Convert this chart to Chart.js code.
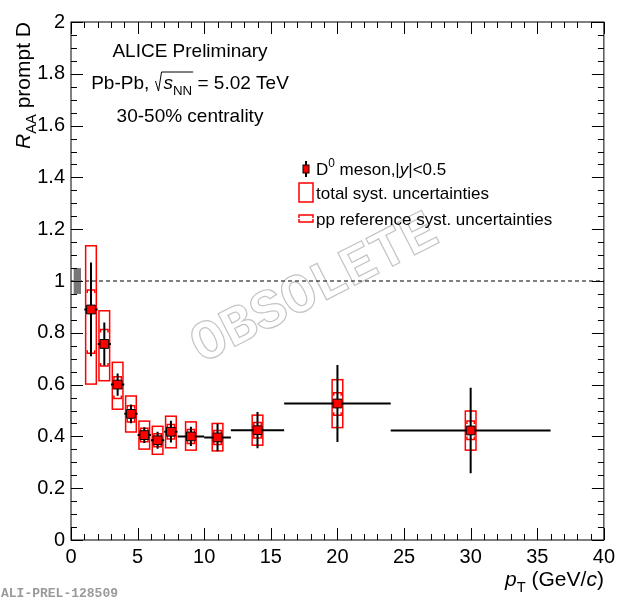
<!DOCTYPE html>
<html>
<head>
<meta charset="utf-8">
<script src="https://cdn.jsdelivr.net/npm/chart.js@4.4.0/dist/chart.umd.min.js"></script>
<style>
  html, body { margin: 0; padding: 0; background: #fff; }
  #wrap { width: 620px; height: 600px; }
</style>
</head>
<body>
<div id="wrap"><canvas id="raa" width="620" height="600"></canvas></div>
<script>
// pT bins (GeV/c)
const ptCenter = [1.5, 2.5, 3.5, 4.5, 5.5, 6.5, 7.5, 9, 11, 14, 20, 30];
const ptLow    = [1, 2, 3, 4, 5, 6, 7, 8, 10, 12, 16, 24];
const ptHigh   = [2, 3, 4, 5, 6, 7, 8, 10, 12, 16, 24, 36];
// prompt D0 R_AA, 30-50%
const raa      = [0.890, 0.757, 0.600, 0.487, 0.405, 0.385, 0.418, 0.400, 0.396, 0.424, 0.527, 0.423];
const statErr  = [0.181, 0.083, 0.043, 0.036, 0.030, 0.033, 0.042, 0.037, 0.053, 0.070, 0.149, 0.165];
const systUp   = [0.246, 0.128, 0.086, 0.069, 0.054, 0.054, 0.060, 0.056, 0.054, 0.058, 0.092, 0.075];
const systDown = [0.288, 0.142, 0.095, 0.070, 0.054, 0.054, 0.062, 0.053, 0.052, 0.058, 0.093, 0.076];
const ppRefUp   = [0.075, 0.056, 0.030, 0.031, 0.026, 0.025, 0.028, 0.027, 0.027, 0.030, 0.042, 0.036];
const ppRefDown = [0.169, 0.085, 0.054, 0.031, 0.026, 0.025, 0.028, 0.027, 0.027, 0.030, 0.045, 0.035];
const normUnc = 0.05;

const xTicks = [0, 5, 10, 15, 20, 25, 30, 35, 40];
const yTicks = [0, 0.2, 0.4, 0.6, 0.8, 1, 1.2, 1.4, 1.6, 1.8, 2];

const FONT = '"Liberation Sans", Arial, Helvetica, sans-serif';
const RED = '#ff0000';

function fontFor(style, size) {
  const small = style.includes('sub') || style.includes('sup');
  const sz = small ? size * 0.7 : size;
  return (style.startsWith('i') ? 'italic ' : '') + sz + 'px ' + FONT;
}

// draws text made of [string, style] parts, style '' | 'i' | 'sub' | 'sup'
function drawRich(ctx, parts, x, y, size, align) {
  let total = 0;
  parts.forEach(([t, s]) => { ctx.font = fontFor(s, size); total += ctx.measureText(t).width; });
  let cx = align === 'right' ? x - total : align === 'center' ? x - total / 2 : x;
  ctx.textAlign = 'left';
  ctx.textBaseline = 'alphabetic';
  parts.forEach(([t, s]) => {
    ctx.font = fontFor(s, size);
    const dy = s.includes('sub') ? size * 0.3 : s.includes('sup') ? -size * 0.45 : 0;
    ctx.fillText(t, cx, y + dy);
    cx += ctx.measureText(t).width;
  });
  return total;
}

function bracketBox(ctx, x0, x1, yTop, yBot) {
  const stub = 3;
  ctx.beginPath();
  ctx.moveTo(x0, yTop + stub); ctx.lineTo(x0, yTop); ctx.lineTo(x1, yTop); ctx.lineTo(x1, yTop + stub);
  ctx.moveTo(x0, yBot - stub); ctx.lineTo(x0, yBot); ctx.lineTo(x1, yBot); ctx.lineTo(x1, yBot - stub);
  ctx.stroke();
}

const alicePlot = {
  id: 'alicePlot',
  beforeDatasetsDraw(chart) {
    const { ctx, scales: { x, y } } = chart;
    ctx.save();

    // watermark
    ctx.save();
    ctx.translate(315, 290);
    ctx.rotate(-27 * Math.PI / 180);
    ctx.font = 'bold 56px "Liberation Mono", "DejaVu Sans Mono", monospace';
    ctx.textAlign = 'center';
    ctx.textBaseline = 'middle';
    ctx.strokeStyle = '#c4c4c4';
    ctx.lineWidth = 1.2;
    ctx.strokeText('OBSOLETE', 0, 0);
    ctx.restore();

    // line at R_AA = 1
    ctx.strokeStyle = '#000';
    ctx.lineWidth = 1;
    ctx.setLineDash([4, 3]);
    ctx.beginPath();
    ctx.moveTo(x.getPixelForValue(0), y.getPixelForValue(1));
    ctx.lineTo(x.getPixelForValue(40), y.getPixelForValue(1));
    ctx.stroke();
    ctx.setLineDash([]);

    // normalisation uncertainty
    ctx.fillStyle = '#777';
    const nx0 = x.getPixelForValue(0.2), nx1 = x.getPixelForValue(0.75);
    const ny0 = y.getPixelForValue(1 + normUnc), ny1 = y.getPixelForValue(1 - normUnc);
    ctx.fillRect(nx0, ny0, nx1 - nx0, ny1 - ny0);

    // syst boxes + pp reference brackets
    ctx.strokeStyle = RED;
    ctx.lineWidth = 1.5;
    ptCenter.forEach((p, i) => {
      const bx0 = x.getPixelForValue(p - 0.4), bx1 = x.getPixelForValue(p + 0.4);
      const by0 = y.getPixelForValue(raa[i] + systUp[i]), by1 = y.getPixelForValue(raa[i] - systDown[i]);
      ctx.strokeRect(bx0, by0, bx1 - bx0, by1 - by0);
      const px0 = x.getPixelForValue(p - 0.28), px1 = x.getPixelForValue(p + 0.28);
      bracketBox(ctx, px0, px1, y.getPixelForValue(raa[i] + ppRefUp[i]), y.getPixelForValue(raa[i] - ppRefDown[i]));
    });

    // stat errors and bin widths
    ctx.strokeStyle = '#000';
    ctx.lineWidth = 2;
    ptCenter.forEach((p, i) => {
      const xc = x.getPixelForValue(p), yc = y.getPixelForValue(raa[i]);
      ctx.beginPath();
      ctx.moveTo(xc, y.getPixelForValue(raa[i] + statErr[i]));
      ctx.lineTo(xc, y.getPixelForValue(raa[i] - statErr[i]));
      ctx.moveTo(x.getPixelForValue(ptLow[i]), yc);
      ctx.lineTo(x.getPixelForValue(ptHigh[i]), yc);
      ctx.stroke();
    });
    ctx.restore();
  },
  afterDraw(chart) {
    const { ctx, chartArea: a, scales: { x, y } } = chart;
    ctx.save();
    // frame with inner ticks on all sides
    ctx.strokeStyle = '#000';
    ctx.lineWidth = 1;
    ctx.strokeRect(a.left, a.top, a.right - a.left, a.bottom - a.top);
    ctx.beginPath();
    for (let v = 0; v <= 40; v += 1) {
      const px = Math.round(x.getPixelForValue(v)) + 0.5;
      const len = v % 5 === 0 ? 12 : 6;
      ctx.moveTo(px, a.bottom); ctx.lineTo(px, a.bottom - len);
      ctx.moveTo(px, a.top); ctx.lineTo(px, a.top + len);
    }
    for (let k = 0; k <= 40; k++) {
      const py = Math.round(y.getPixelForValue(k * 0.05)) + 0.5;
      const len = k % 4 === 0 ? 12 : 6;
      ctx.moveTo(a.left, py); ctx.lineTo(a.left + len, py);
      ctx.moveTo(a.right, py); ctx.lineTo(a.right - len, py);
    }
    ctx.stroke();

    ctx.fillStyle = '#000';
    // header texts
    drawRich(ctx, [['ALICE Preliminary', '']], 190, 57, 19, 'center');
    // Pb-Pb, sqrt(sNN) = 5.02 TeV
    {
      const size = 19, base = 89;
      const p1 = 'Pb-Pb, ', p3 = ' = 5.02 TeV';
      ctx.font = fontFor('', size); const w1 = ctx.measureText(p1).width, w3 = ctx.measureText(p3).width;
      ctx.font = fontFor('i', size); const ws = ctx.measureText('s').width;
      ctx.font = fontFor('sub', size); const wn = ctx.measureText('NN').width;
      const radW = 9;
      const total = w1 + radW + ws + wn + w3;
      let cx = 190 - total / 2;
      drawRich(ctx, [[p1, '']], cx, base, size, 'left');
      cx += w1;
      ctx.lineWidth = 1;
      ctx.beginPath();
      ctx.moveTo(cx + 1, base - 8);
      ctx.lineTo(cx + 4, base + 2);
      ctx.lineTo(cx + 7, base - 17);
      ctx.lineTo(cx + radW + ws + wn + 1, base - 17);
      ctx.stroke();
      cx += radW;
      drawRich(ctx, [['s', 'i'], ['NN', 'sub'], [p3, '']], cx, base, size, 'left');
    }
    drawRich(ctx, [['30-50% centrality', '']], 190, 122, 19, 'center');

    // legend
    const lx = 316, ls = 17;
    ctx.strokeStyle = '#000'; ctx.lineWidth = 2;
    ctx.beginPath(); ctx.moveTo(306, 161); ctx.lineTo(306, 177); ctx.stroke();
    ctx.fillStyle = RED; ctx.fillRect(303, 165, 6, 8);
    ctx.lineWidth = 1; ctx.strokeRect(303, 165, 6, 8);
    ctx.fillStyle = '#000';
    drawRich(ctx, [['D', ''], ['0', 'sup'], [' meson,|', ''], ['y', 'i'], ['|<0.5', '']], lx, 175, ls, 'left');
    ctx.strokeStyle = RED; ctx.lineWidth = 1.5;
    ctx.strokeRect(299, 183, 14, 19);
    drawRich(ctx, [['total syst. uncertainties', '']], lx, 199, ls, 'left');
    bracketBox(ctx, 299, 313, 215, 222);
    drawRich(ctx, [['pp reference syst. uncertainties', '']], lx, 225, ls, 'left');

    // axis titles
    drawRich(ctx, [['p', 'i'], ['T', 'sub'], [' (GeV/', ''], ['c', 'i'], [')', '']], a.right, 586, 21, 'right');
    ctx.save();
    ctx.translate(30, a.top);
    ctx.rotate(-Math.PI / 2);
    drawRich(ctx, [['R', 'i'], ['AA', 'sub'], [' prompt D', '']], 0, 0, 21, 'right');
    ctx.restore();

    // reference tag
    ctx.fillStyle = '#9a9a9a';
    ctx.font = 'bold 13px "Liberation Mono", monospace';
    ctx.textAlign = 'left';
    ctx.textBaseline = 'alphabetic';
    ctx.fillText('ALI-PREL-128509', 1, 597);
    ctx.restore();
  }
};

new Chart(document.getElementById('raa').getContext('2d'), {
  type: 'scatter',
  data: {
    datasets: [{
      label: 'D0 meson',
      data: ptCenter.map((p, i) => ({ x: p, y: raa[i] })),
      pointStyle: 'rect',
      pointRotation: 0,
      pointRadius: 6.2,
      pointHoverRadius: 6.2,
      pointBackgroundColor: RED,
      pointBorderColor: '#000',
      pointBorderWidth: 1,
      backgroundColor: RED,
      borderColor: '#000'
    }]
  },
  options: {
    responsive: false,
    animation: false,
    devicePixelRatio: 1,
    events: [],
    layout: { padding: { top: 22, right: 16, left: 0, bottom: 0 } },
    plugins: { legend: { display: false }, tooltip: { enabled: false } },
    scales: {
      x: {
        type: 'linear', min: 0, max: 40,
        afterBuildTicks: s => { s.ticks = xTicks.map(v => ({ value: v })); },
        afterFit: s => { s.height = 60; },
        grid: { display: false, drawTicks: false },
        border: { display: false },
        ticks: { color: '#000', font: { family: FONT, size: 20 }, padding: 5, maxRotation: 0, autoSkip: false }
      },
      y: {
        type: 'linear', min: 0, max: 2,
        afterBuildTicks: s => { s.ticks = yTicks.map(v => ({ value: v })); },
        afterFit: s => { s.width = 71; },
        grid: { display: false, drawTicks: false },
        border: { display: false },
        ticks: { color: '#000', font: { family: FONT, size: 20 }, padding: 6, autoSkip: false,
                 callback: v => String(+v.toFixed(1)) }
      }
    }
  },
  plugins: [alicePlot]
});
</script>
</body>
</html>
